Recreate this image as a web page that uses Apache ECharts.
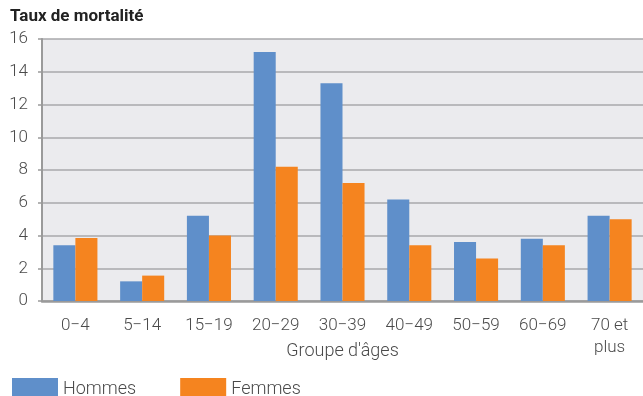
<!DOCTYPE html>
<html>
<head>
<meta charset="utf-8">
<script src="https://cdn.jsdelivr.net/npm/echarts@6/dist/echarts.min.js"></script>
<style>
  html, body { margin: 0; padding: 0; background: #fff; }
  #chart { width: 643px; height: 396px; }
</style>
</head>
<body>
<div id="chart"></div>
<script>
// Age groups and mortality rates per sex
const categories = ['0−4', '5−14', '15−19', '20−29', '30−39', '40−49', '50−59', '60−69', '70 et\nplus'];
const hommes = [3.4, 1.2, 5.2, 15.2, 13.3, 6.2, 3.6, 3.8, 5.2];
const femmes = [3.85, 1.55, 4.0, 8.2, 7.2, 3.4, 2.6, 3.4, 5.0];
const yTicks = { min: 0, max: 16, interval: 2 };

const chart = echarts.init(document.getElementById('chart'), null, { renderer: 'canvas' });
const font = 'Roboto, "Noto Sans", sans-serif';
const labelColor = '#4a4a4a';

chart.setOption({
  animation: false,
  textStyle: { fontFamily: font },
  title: {
    text: 'Taux de mortalité',
    left: 5, top: 3,
    textStyle: { fontFamily: font, fontSize: 17, fontWeight: 'bold', color: '#222' }
  },
  legend: {
    left: 7, top: 373,
    itemWidth: 46, itemHeight: 22, itemGap: 44,
    icon: 'rect',
    textStyle: { fontFamily: font, fontSize: 18, fontWeight: 300, color: labelColor, padding: 0 },
    data: ['Hommes', 'Femmes']
  },
  grid: {
    left: 42, right: 0, top: 39, bottom: 95,
    show: true, backgroundColor: '#ebebee', borderWidth: 0
  },
  xAxis: {
    type: 'category',
    data: categories,
    name: "Groupe d'âges",
    nameLocation: 'middle',
    nameGap: 41,
    nameMoveOverlap: false,
    nameTextStyle: { fontFamily: font, fontSize: 18, fontWeight: 300, color: labelColor },
    axisLine: { lineStyle: { color: '#9a9a9a', width: 2.5 } },
    axisTick: { show: false },
    axisLabel: { fontFamily: font, fontSize: 17, fontWeight: 300, color: labelColor, margin: 14, lineHeight: 22 }
  },
  yAxis: {
    type: 'value',
    min: yTicks.min, max: yTicks.max, interval: yTicks.interval,
    axisLine: { show: true, lineStyle: { color: '#9a9a9a', width: 2 } },
    axisTick: { show: true, length: 4, lineStyle: { color: '#9a9a9a', width: 1.5 } },
    splitLine: { lineStyle: { color: '#a9a9ab', width: 1.5 } },
    axisLabel: { fontFamily: font, fontSize: 17, fontWeight: 300, color: labelColor, margin: 14 }
  },
  series: [
    {
      name: 'Hommes', type: 'bar', data: hommes,
      barGap: '0%', barCategoryGap: '34%',
      itemStyle: { color: '#5f8fca' }
    },
    {
      name: 'Femmes', type: 'bar', data: femmes,
      itemStyle: { color: '#f5841f' }
    }
  ]
});
</script>
</body>
</html>
